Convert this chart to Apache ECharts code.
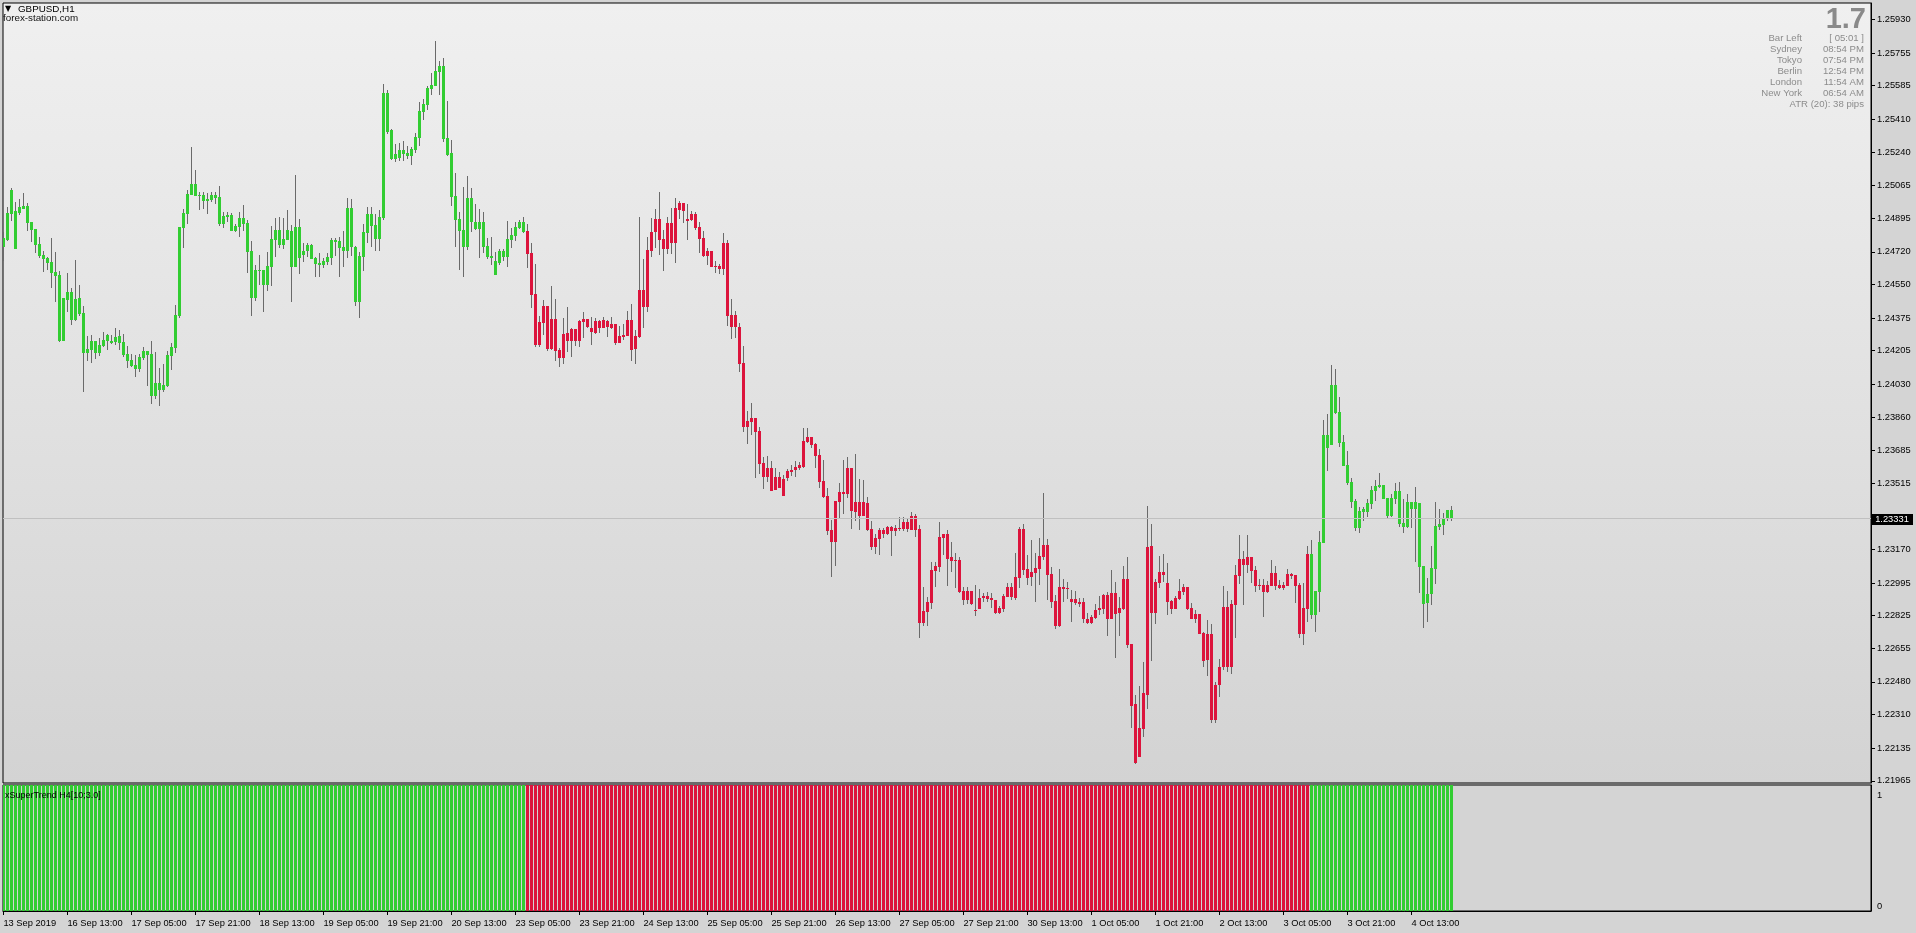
<!DOCTYPE html>
<html><head><meta charset="utf-8">
<script src="https://cdn.jsdelivr.net/npm/echarts@6/dist/echarts.min.js"></script>
<style>html,body{margin:0;padding:0;background:#d4d4d4;overflow:hidden}#c{width:1916px;height:933px}</style>
</head><body><div id="c"></div>
<script>
const openP = [
1.24745,1.24781,1.24918,1.24932,1.24922,1.24960,1.24960,1.24875,1.24839,1.24760,
1.24703,1.24689,1.24667,1.24615,1.24599,1.24255,1.24471,1.24510,1.24365,1.24479,
1.24401,1.24194,1.24210,1.24255,1.24194,1.24231,1.24255,1.24255,1.24252,1.24281,
1.24250,1.24187,1.24158,1.24132,1.24111,1.24168,1.24203,1.24187,1.23970,1.24036,
1.24002,1.24023,1.24179,1.24220,1.24387,1.24845,1.24918,1.25017,1.25075,1.25012,
1.25016,1.24986,1.24991,1.25016,1.25005,1.24866,1.24911,1.24911,1.24830,1.24851,
1.24896,1.24870,1.24724,1.24481,1.24625,1.24625,1.24547,1.24642,1.24781,1.24833,
1.24755,1.24783,1.24828,1.24642,1.24849,1.24703,1.24724,1.24755,1.24688,1.24662,
1.24651,1.24669,1.24689,1.24783,1.24776,1.24745,1.24724,1.24948,1.24747,1.24460,
1.24695,1.24820,1.24917,1.24859,1.24786,1.24896,1.25547,1.25354,1.25203,1.25208,
1.25250,1.25234,1.25219,1.25250,1.25313,1.25448,1.25484,1.25568,1.25583,1.25656,
1.25688,1.25313,1.25234,1.25011,1.24891,1.24833,1.24745,1.25000,1.24875,1.24839,
1.24875,1.24750,1.24690,1.24672,1.24664,1.24724,1.24695,1.24783,1.24804,1.24844,
1.24875,1.24828,1.24714,1.24500,1.24237,1.24351,1.24438,1.24216,1.24370,1.24210,
1.24169,1.24297,1.24257,1.24318,1.24257,1.24355,1.24370,1.24323,1.24299,1.24360,
1.24323,1.24360,1.24323,1.24344,1.24247,1.24276,1.24283,1.24365,1.24216,1.24278,
1.24521,1.24434,1.24726,1.24823,1.24891,1.24787,1.24736,1.24870,1.24768,1.24940,
1.24974,1.24891,1.24888,1.24917,1.24849,1.24792,1.24700,1.24724,1.24646,1.24646,
1.24632,1.24766,1.24391,1.24391,1.24330,1.24141,1.23808,1.23834,1.23855,1.23787,
1.23620,1.23548,1.23594,1.23482,1.23548,1.23537,1.23542,1.23574,1.23584,1.23594,
1.23600,1.23730,1.23756,1.23719,1.23662,1.23527,1.23449,1.23271,1.23209,1.23417,
1.23469,1.23459,1.23594,1.23367,1.23417,1.23344,1.23412,1.23277,1.23183,1.23225,
1.23271,1.23251,1.23287,1.23266,1.23282,1.23277,1.23313,1.23271,1.23344,1.23277,
1.22789,1.22846,1.22893,1.23060,1.23081,1.23230,1.23251,1.23131,1.23112,1.23115,
1.22956,1.22909,1.22956,1.22857,1.22862,1.22918,1.22928,1.22918,1.22907,1.22841,
1.22862,1.22924,1.22975,1.22918,1.23023,1.23277,1.23069,1.23027,1.23048,1.23070,
1.23133,1.23194,1.23042,1.22902,1.22773,1.22975,1.22966,1.22912,1.22893,1.22898,
1.22897,1.22808,1.22789,1.22815,1.22852,1.22862,1.22933,1.22805,1.22944,1.22841,
1.22858,1.23016,1.22678,1.22365,1.22091,1.22237,1.22414,1.23188,1.22841,1.22997,
1.23053,1.22996,1.22902,1.22862,1.22914,1.22950,1.22975,1.22865,1.22810,1.22834,
1.22735,1.22595,1.22730,1.22284,1.22464,1.22560,1.22872,1.22560,1.22878,1.23034,
1.23121,1.23091,1.23131,1.23063,1.22977,1.22987,1.22950,1.22982,1.23048,1.22985,
1.22971,1.22982,1.23042,1.23037,1.22987,1.22727,1.22862,1.23147,1.22831,1.22950,
1.23206,1.23766,1.23716,1.24027,1.23886,1.23730,1.23610,1.23522,1.23423,1.23279,
1.23365,1.23365,1.23407,1.23476,1.23496,1.23506,1.23438,1.23345,1.23435,1.23475,
1.23308,1.23289,1.23417,1.23383,1.23412,1.23084,1.22893,1.22940,1.23070,1.23287,
1.23298,1.23331,1.23376];
const highP = [
1.24825,1.24955,1.25052,1.24979,1.24995,1.25026,1.24974,1.24875,1.24839,1.24797,
1.24724,1.24694,1.24792,1.24719,1.24620,1.24479,1.24609,1.24533,1.24677,1.24547,
1.24438,1.24281,1.24286,1.24255,1.24271,1.24302,1.24292,1.24286,1.24323,1.24312,
1.24292,1.24229,1.24189,1.24184,1.24189,1.24224,1.24203,1.24255,1.24198,1.24116,
1.24137,1.24205,1.24245,1.24443,1.24849,1.24943,1.25042,1.25266,1.25146,1.25033,
1.25029,1.25026,1.25033,1.25033,1.25062,1.24929,1.24925,1.24924,1.24866,1.24929,
1.24964,1.24885,1.24776,1.24651,1.24703,1.24625,1.24719,1.24854,1.24896,1.24901,
1.24896,1.24938,1.24859,1.25120,1.24891,1.24766,1.24766,1.24761,1.24695,1.24714,
1.24688,1.24714,1.24792,1.24792,1.24797,1.24828,1.25000,1.24995,1.24750,1.24721,
1.24865,1.24953,1.24953,1.24917,1.24938,1.25594,1.25563,1.25361,1.25281,1.25287,
1.25297,1.25271,1.25266,1.25339,1.25500,1.25516,1.25583,1.25651,1.25818,1.25714,
1.25729,1.25505,1.25302,1.25130,1.24927,1.25057,1.25115,1.25052,1.24969,1.24943,
1.24927,1.24792,1.24799,1.24719,1.24735,1.24735,1.24881,1.24846,1.24875,1.24888,
1.24901,1.24865,1.24766,1.24657,1.24386,1.24469,1.24438,1.24542,1.24474,1.24221,
1.24375,1.24433,1.24323,1.24318,1.24365,1.24407,1.24370,1.24381,1.24375,1.24365,
1.24381,1.24365,1.24381,1.24344,1.24334,1.24344,1.24412,1.24448,1.24313,1.24901,
1.24683,1.24797,1.24896,1.24943,1.25032,1.24834,1.24901,1.24948,1.25000,1.24985,
1.24974,1.24969,1.24933,1.24927,1.24875,1.24828,1.24740,1.24724,1.24672,1.24657,
1.24818,1.24782,1.24474,1.24410,1.24350,1.24230,1.23891,1.23933,1.23855,1.23808,
1.23652,1.23657,1.23631,1.23594,1.23574,1.23558,1.23589,1.23610,1.23631,1.23626,
1.23803,1.23803,1.23756,1.23725,1.23693,1.23636,1.23490,1.23324,1.23423,1.23516,
1.23636,1.23652,1.23594,1.23667,1.23537,1.23532,1.23443,1.23318,1.23251,1.23282,
1.23282,1.23292,1.23292,1.23297,1.23339,1.23339,1.23334,1.23365,1.23355,1.23297,
1.22975,1.22923,1.23105,1.23105,1.23313,1.23251,1.23271,1.23209,1.23152,1.23131,
1.22976,1.22976,1.22956,1.22987,1.22964,1.22944,1.22949,1.22944,1.22907,1.22876,
1.22940,1.22996,1.22996,1.23152,1.23287,1.23303,1.23141,1.23220,1.23152,1.23230,
1.23464,1.23225,1.23079,1.22933,1.23069,1.23016,1.23001,1.22959,1.22954,1.22918,
1.22918,1.22839,1.22829,1.22886,1.22928,1.22938,1.22949,1.23063,1.23001,1.22923,
1.23084,1.23131,1.22678,1.22412,1.22459,1.22584,1.23397,1.23303,1.23016,1.23136,
1.23147,1.23100,1.22909,1.22928,1.23016,1.22990,1.22975,1.22891,1.22855,1.22834,
1.22740,1.22803,1.22782,1.22480,1.22600,1.22982,1.22954,1.22907,1.23089,1.23246,
1.23162,1.23246,1.23131,1.23086,1.23016,1.23016,1.23003,1.23115,1.23084,1.23011,
1.23001,1.23069,1.23048,1.23037,1.22996,1.22996,1.23188,1.23220,1.22956,1.23266,
1.23845,1.23876,1.24131,1.24110,1.23964,1.23766,1.23683,1.23542,1.23433,1.23391,
1.23391,1.23433,1.23501,1.23532,1.23569,1.23506,1.23438,1.23459,1.23516,1.23522,
1.23433,1.23459,1.23417,1.23496,1.23412,1.23084,1.23022,1.23188,1.23417,1.23378,
1.23360,1.23376,1.23397];
const lowP = [
1.24674,1.24778,1.24882,1.24736,1.24911,1.24944,1.24830,1.24771,1.24715,1.24688,
1.24616,1.24627,1.24533,1.24458,1.24250,1.24255,1.24406,1.24339,1.24359,1.24387,
1.23991,1.24153,1.24142,1.24163,1.24179,1.24226,1.24210,1.24241,1.24236,1.24210,
1.24174,1.24116,1.24121,1.24069,1.24095,1.24158,1.24023,1.23929,1.23955,1.23918,
1.23991,1.24017,1.24106,1.24194,1.24377,1.24741,1.24866,1.25017,1.25012,1.24939,
1.24944,1.24918,1.24981,1.24970,1.24856,1.24844,1.24875,1.24830,1.24823,1.24799,
1.24830,1.24611,1.24387,1.24465,1.24547,1.24408,1.24517,1.24543,1.24695,1.24741,
1.24736,1.24783,1.24460,1.24642,1.24606,1.24669,1.24695,1.24684,1.24590,1.24590,
1.24637,1.24653,1.24653,1.24700,1.24590,1.24642,1.24689,1.24700,1.24439,1.24377,
1.24622,1.24767,1.24747,1.24726,1.24726,1.24886,1.25335,1.25198,1.25188,1.25193,
1.25193,1.25203,1.25172,1.25234,1.25271,1.25406,1.25458,1.25537,1.25583,1.25537,
1.25292,1.25219,1.24958,1.24745,1.24625,1.24590,1.24729,1.24823,1.24833,1.24688,
1.24714,1.24684,1.24651,1.24601,1.24651,1.24672,1.24643,1.24742,1.24778,1.24841,
1.24818,1.24638,1.24429,1.24226,1.24226,1.24289,1.24205,1.24210,1.24153,1.24122,
1.24138,1.24200,1.24174,1.24231,1.24226,1.24273,1.24323,1.24237,1.24294,1.24299,
1.24323,1.24278,1.24318,1.24237,1.24247,1.24263,1.24283,1.24153,1.24138,1.24273,
1.24325,1.24408,1.24695,1.24742,1.24705,1.24622,1.24710,1.24710,1.24664,1.24893,
1.24872,1.24783,1.24882,1.24835,1.24716,1.24695,1.24653,1.24643,1.24611,1.24606,
1.24601,1.24335,1.24268,1.24273,1.24096,1.23782,1.23719,1.23766,1.23542,1.23563,
1.23485,1.23521,1.23476,1.23482,1.23492,1.23450,1.23528,1.23554,1.23549,1.23586,
1.23596,1.23725,1.23700,1.23596,1.23492,1.23440,1.23245,1.23028,1.23086,1.23329,
1.23356,1.23440,1.23278,1.23320,1.23273,1.23344,1.23268,1.23169,1.23148,1.23143,
1.23230,1.23247,1.23138,1.23240,1.23266,1.23268,1.23263,1.23271,1.23237,1.22711,
1.22773,1.22773,1.22862,1.22976,1.23054,1.23143,1.22982,1.23054,1.22971,1.22945,
1.22883,1.22888,1.22883,1.22825,1.22862,1.22898,1.22897,1.22867,1.22836,1.22836,
1.22846,1.22924,1.22904,1.22909,1.22971,1.23037,1.22987,1.22982,1.22898,1.22987,
1.23117,1.22909,1.22867,1.22758,1.22768,1.22898,1.22914,1.22794,1.22878,1.22871,
1.22789,1.22784,1.22784,1.22810,1.22829,1.22836,1.22721,1.22805,1.22602,1.22721,
1.22853,1.22659,1.22242,1.22050,1.22091,1.22195,1.22341,1.22591,1.22784,1.22971,
1.23001,1.22831,1.22836,1.22862,1.22909,1.22930,1.22857,1.22810,1.22789,1.22727,
1.22555,1.22513,1.22268,1.22268,1.22400,1.22540,1.22530,1.22520,1.22711,1.22992,
1.22883,1.23049,1.22997,1.22950,1.22961,1.22820,1.22945,1.22977,1.22961,1.22966,
1.22961,1.22977,1.23018,1.22893,1.22711,1.22673,1.22794,1.22810,1.22742,1.22846,
1.23206,1.23581,1.23716,1.23874,1.23706,1.23607,1.23506,1.23388,1.23268,1.23258,
1.23320,1.23339,1.23383,1.23424,1.23492,1.23435,1.23334,1.23339,1.23409,1.23289,
1.23258,1.23284,1.23284,1.23107,1.22945,1.22763,1.22794,1.22883,1.22992,1.23273,
1.23246,1.23320,1.23319];
const closeP = [
1.24793,1.24922,1.25042,1.24736,1.24953,1.24944,1.24870,1.24835,1.24757,1.24700,
1.24682,1.24661,1.24611,1.24595,1.24255,1.24479,1.24510,1.24365,1.24474,1.24398,
1.24194,1.24215,1.24255,1.24194,1.24234,1.24260,1.24286,1.24246,1.24276,1.24246,
1.24184,1.24153,1.24127,1.24111,1.24172,1.24203,1.24184,1.23970,1.24036,1.24002,
1.24026,1.24182,1.24224,1.24392,1.24849,1.24922,1.25022,1.25075,1.25012,1.25017,
1.24986,1.24995,1.25016,1.25000,1.24866,1.24906,1.24901,1.24830,1.24854,1.24896,
1.24866,1.24720,1.24481,1.24625,1.24620,1.24547,1.24646,1.24786,1.24833,1.24755,
1.24786,1.24833,1.24642,1.24849,1.24689,1.24724,1.24755,1.24684,1.24658,1.24651,
1.24672,1.24693,1.24783,1.24771,1.24741,1.24724,1.24948,1.24747,1.24460,1.24700,
1.24823,1.24917,1.24854,1.24786,1.24901,1.25547,1.25344,1.25203,1.25229,1.25250,
1.25229,1.25219,1.25255,1.25318,1.25453,1.25490,1.25573,1.25589,1.25662,1.25688,
1.25307,1.25224,1.25005,1.24886,1.24828,1.24745,1.25000,1.24875,1.24839,1.24875,
1.24745,1.24693,1.24700,1.24601,1.24724,1.24695,1.24787,1.24808,1.24849,1.24875,
1.24823,1.24709,1.24497,1.24237,1.24355,1.24438,1.24216,1.24370,1.24205,1.24169,
1.24292,1.24257,1.24318,1.24257,1.24360,1.24370,1.24329,1.24304,1.24360,1.24323,
1.24365,1.24329,1.24344,1.24247,1.24282,1.24287,1.24365,1.24210,1.24282,1.24521,
1.24434,1.24730,1.24823,1.24891,1.24783,1.24736,1.24870,1.24768,1.24948,1.24974,
1.24934,1.24882,1.24917,1.24846,1.24789,1.24700,1.24724,1.24643,1.24641,1.24632,
1.24766,1.24388,1.24330,1.24330,1.24136,1.23808,1.23839,1.23855,1.23782,1.23615,
1.23548,1.23594,1.23476,1.23548,1.23492,1.23450,1.23579,1.23584,1.23600,1.23610,
1.23735,1.23756,1.23714,1.23657,1.23523,1.23443,1.23266,1.23209,1.23423,1.23469,
1.23459,1.23594,1.23370,1.23417,1.23344,1.23417,1.23271,1.23183,1.23230,1.23271,
1.23251,1.23287,1.23266,1.23282,1.23277,1.23313,1.23277,1.23344,1.23271,1.22789,
1.22850,1.22897,1.23063,1.23084,1.23235,1.23251,1.23122,1.23112,1.23115,1.22950,
1.22909,1.22956,1.22888,1.22851,1.22918,1.22928,1.22914,1.22904,1.22841,1.22865,
1.22928,1.22975,1.22924,1.23027,1.23277,1.23065,1.23023,1.23053,1.23074,1.23136,
1.23194,1.23039,1.22898,1.22773,1.22975,1.22964,1.22970,1.22898,1.22912,1.22888,
1.22805,1.22789,1.22819,1.22855,1.22865,1.22933,1.22805,1.22944,1.22836,1.22865,
1.23016,1.22674,1.22357,1.22055,1.22240,1.22423,1.23183,1.22841,1.23001,1.23053,
1.23039,1.22898,1.22862,1.22918,1.22954,1.22975,1.22862,1.22810,1.22834,1.22732,
1.22591,1.22730,1.22284,1.22464,1.22560,1.22872,1.22560,1.22886,1.23037,1.23121,
1.23091,1.23131,1.23060,1.22977,1.22987,1.22950,1.22987,1.23048,1.22982,1.22971,
1.22985,1.23042,1.23034,1.22982,1.22727,1.22867,1.23147,1.22831,1.22956,1.23209,
1.23766,1.23700,1.24027,1.23878,1.23726,1.23607,1.23516,1.23419,1.23282,1.23371,
1.23381,1.23412,1.23480,1.23501,1.23506,1.23435,1.23345,1.23438,1.23475,1.23303,
1.23289,1.23417,1.23383,1.23417,1.23081,1.22888,1.22940,1.23074,1.23292,1.23303,
1.23334,1.23376,1.23331];
// xSuperTrend H4 state as runs: [number of bars, 1 = up (green), -1 = down (red)]
const trendRuns = [[131, 1], [196, -1], [36, 1]];
const timeLabels = ['13 Sep 2019','16 Sep 13:00','17 Sep 05:00','17 Sep 21:00','18 Sep 13:00','19 Sep 05:00','19 Sep 21:00','20 Sep 13:00','23 Sep 05:00','23 Sep 21:00','24 Sep 13:00','25 Sep 05:00','25 Sep 21:00','26 Sep 13:00','27 Sep 05:00','27 Sep 21:00','30 Sep 13:00','1 Oct 05:00','1 Oct 21:00','2 Oct 13:00','3 Oct 05:00','3 Oct 21:00','4 Oct 13:00'];
const barsPerTimeLabel = 16;
const priceTicks = [1.25930,1.25755,1.25585,1.25410,1.25240,1.25065,1.24895,1.24720,1.24550,1.24375,1.24205,1.24030,1.23860,1.23685,1.23515,1.23170,1.22995,1.22825,1.22655,1.22480,1.22310,1.22135,1.21965];
const lastPrice = 1.23331;
const infoRows = [['Bar Left','[ 05:01 ]'],['Sydney','08:54 PM'],['Tokyo','07:54 PM'],['Berlin','12:54 PM'],['London','11:54 AM'],['New York','06:54 AM']];
const atrText = 'ATR (20): 38 pips';
const spreadText = '1.7';

const UP = '#32cd32', DOWN = '#dc143c', WICK = '#6a6a6a';
const FONT = 'Liberation Sans, Arial, sans-serif';

const trend = [];
trendRuns.forEach(([n, s]) => { for (let k = 0; k < n; k++) trend.push(s); });
const candleData = openP.map((o, i) => [i, o, closeP[i], lowP[i], highP[i], trend[i]]);
const trendData = trend.map((s, i) => [i, 1, s]);
const labelBars = timeLabels.map((_, k) => k * barsPerTimeLabel);

const X_MIN = -0.1, X_MAX = 466.9;
const Y_MIN = 1.219534, Y_MAX = 1.260159;

function candleItem(params, api) {
  const i = api.value(0);
  const pO = api.coord([i, api.value(1)]);
  const pC = api.coord([i, api.value(2)]);
  const pL = api.coord([i, api.value(3)]);
  const pH = api.coord([i, api.value(4)]);
  const cx = Math.floor(pO[0]);
  const top = Math.round(Math.min(pO[1], pC[1]));
  const bot = Math.round(Math.max(pO[1], pC[1]));
  const hy = Math.round(pH[1]), ly = Math.round(pL[1]);
  return { type: 'group', children: [
    { type: 'rect', shape: { x: cx, y: hy, width: 1, height: Math.max(1, ly - hy) }, style: { fill: WICK } },
    { type: 'rect', shape: { x: cx - 1, y: top, width: 3, height: Math.max(1, bot - top) }, style: { fill: api.value(5) > 0 ? UP : DOWN } }
  ]};
}
function trendItem(params, api) {
  const i = api.value(0);
  const p1 = api.coord([i, api.value(1)]);
  const p0 = api.coord([i, 0]);
  const cx = Math.floor(p1[0]);
  return { type: 'rect', shape: { x: cx - 1, y: Math.round(p1[1]), width: 3, height: Math.round(p0[1]) - Math.round(p1[1]) },
    style: { fill: api.value(2) > 0 ? UP : DOWN } };
}

const chart = echarts.init(document.getElementById('c'), null, { renderer: 'canvas' });
const graphics = [
  { type: 'text', left: 5, top: 5, z: 100, style: { text: '\u25BC', font: '8px DejaVu Sans', fill: '#000' } },
  { type: 'text', left: 18, top: 4, z: 100, style: { text: 'GBPUSD,H1', font: '9.8px ' + FONT, fill: '#000' } },
  { type: 'text', left: 3, top: 13, z: 100, style: { text: 'forex-station.com', font: '9.8px ' + FONT, fill: '#111' } },
  { type: 'text', x: 1866, y: 20, z: 100, style: { text: spreadText, font: 'bold 29px ' + FONT, fill: '#8a8a8a', align: 'right', verticalAlign: 'middle' } },
  { type: 'text', left: 5, top: 791, z: 100, style: { text: 'xSuperTrend H4[10;3.0]', font: '9px ' + FONT, fill: '#000' } }
];
infoRows.forEach((r, k) => {
  graphics.push({ type: 'text', x: 1802, y: 38.5 + k * 11, z: 100, style: { text: r[0], font: '9.6px ' + FONT, fill: '#8c8c8c', align: 'right', verticalAlign: 'middle' } });
  graphics.push({ type: 'text', x: 1864, y: 38.5 + k * 11, z: 100, style: { text: r[1], font: '9.6px ' + FONT, fill: '#8c8c8c', align: 'right', verticalAlign: 'middle' } });
});
graphics.push({ type: 'text', x: 1864, y: 38.5 + 6 * 11, z: 100, style: { text: atrText, font: '9.6px ' + FONT, fill: '#8c8c8c', align: 'right', verticalAlign: 'middle' } });

chart.setOption({
  animation: false,
  backgroundColor: '#d4d4d4',
  textStyle: { fontFamily: FONT },
  grid: [
    { left: 3, top: 3, width: 1868, height: 780, show: true, borderColor: '#000', borderWidth: 1,
      backgroundColor: new echarts.graphic.LinearGradient(0, 0, 0, 1, [{ offset: 0, color: '#f0f0f0' }, { offset: 1, color: '#d3d3d3' }]),
      outerBoundsMode: 'none', containLabel: false },
    { left: 3, top: 785, width: 1868, height: 126, show: true, borderColor: '#000', borderWidth: 1, backgroundColor: '#d4d4d4',
      outerBoundsMode: 'none', containLabel: false }
  ],
  xAxis: [
    { type: 'value', gridIndex: 0, min: X_MIN, max: X_MAX, show: false, axisLine: { onZero: false } },
    { type: 'value', gridIndex: 1, min: X_MIN, max: X_MAX, splitLine: { show: false },
      axisLine: { show: true, onZero: false, lineStyle: { color: '#000' } },
      axisTick: { show: true, length: 4, customValues: labelBars, lineStyle: { color: '#000' } },
      axisLabel: { customValues: labelBars, align: 'left', margin: 8, fontSize: 9.3, color: '#000', fontFamily: FONT,
        formatter: v => timeLabels[Math.round(v / barsPerTimeLabel)] || '' } }
  ],
  yAxis: [
    { type: 'value', gridIndex: 0, position: 'right', min: Y_MIN, max: Y_MAX, splitLine: { show: false },
      axisLine: { show: true, onZero: false, lineStyle: { color: '#000' } },
      axisTick: { show: true, length: 4, customValues: priceTicks, lineStyle: { color: '#000' } },
      axisLabel: { customValues: priceTicks, margin: 6, fontSize: 9.3, color: '#000', fontFamily: FONT, formatter: v => v.toFixed(5) } },
    { type: 'value', gridIndex: 1, position: 'right', min: 0, max: 1, splitLine: { show: false },
      axisLine: { show: true, onZero: false, lineStyle: { color: '#000' } },
      axisTick: { show: false },
      axisLabel: { customValues: [0.035, 0.915], margin: 6, fontSize: 9.3, color: '#000', fontFamily: FONT, formatter: v => (v > 0.5 ? '1' : '0') } }
  ],
  series: [
    { type: 'line', xAxisIndex: 0, yAxisIndex: 0, data: [], z: 1, silent: true,
      markLine: { silent: true, symbol: 'none', animation: false, precision: 5,
        lineStyle: { color: '#c0c0c0', width: 1, type: 'solid' },
        label: { show: false },
        data: [{ yAxis: lastPrice }] } },
    { type: 'custom', name: 'GBPUSD', xAxisIndex: 0, yAxisIndex: 0, renderItem: candleItem, data: candleData, z: 3,
      encode: { x: 0, y: [1, 2, 3, 4] }, clip: true, silent: true },
    { type: 'custom', name: 'xSuperTrend', xAxisIndex: 1, yAxisIndex: 1, renderItem: trendItem, data: trendData, z: 3,
      encode: { x: 0, y: 1 }, clip: true, silent: true }
  ],
  graphic: graphics
});

// current bid label on the price axis: vertical position through the axis scale
const bidY = chart.convertToPixel({ yAxisIndex: 0 }, lastPrice);
graphics.push({ type: 'group', right: 3, top: Math.round(bidY) - 5, z: 200, children: [
  { type: 'rect', shape: { x: 0, y: 0, width: 42, height: 11 }, style: { fill: '#000' } },
  { type: 'text', x: 21, y: 5.5, style: { text: lastPrice.toFixed(5), font: '9.3px ' + FONT, fill: '#fff', align: 'center', verticalAlign: 'middle' } }
] });
chart.setOption({ graphic: graphics }, { replaceMerge: ['graphic'] });
</script></body></html>
